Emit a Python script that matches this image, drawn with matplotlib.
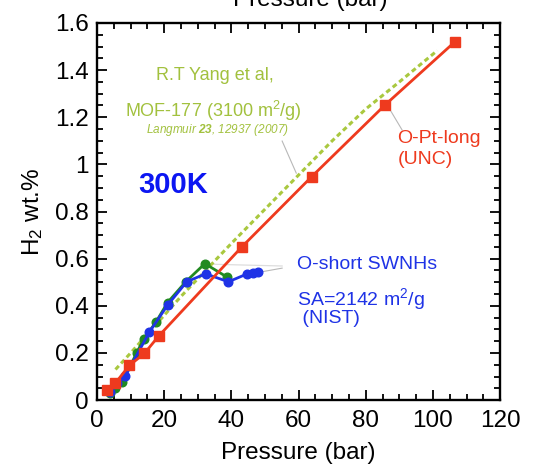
import matplotlib
matplotlib.use("Agg")
import matplotlib.pyplot as plt
from matplotlib.ticker import MultipleLocator, FixedLocator

plt.rcParams['font.family'] = ['Liberation Sans', 'DejaVu Sans']
plt.rcParams['mathtext.fontset'] = 'custom'
plt.rcParams['mathtext.rm'] = 'Liberation Sans'
plt.rcParams['mathtext.it'] = 'Liberation Sans:italic'
plt.rcParams['mathtext.bf'] = 'Liberation Sans:bold:italic'

# O-Pt-long (UNC)
pt_long_p = [3.0, 5.5, 9.6, 14.1, 18.3, 43.1, 63.9, 85.8, 106.6]
pt_long_h2 = [0.043, 0.073, 0.147, 0.198, 0.271, 0.650, 0.948, 1.253, 1.521]

# O-short SWNHs (two runs)
swnh_a_p = [3.9, 5.5, 7.5, 11.8, 13.9, 17.5, 21.0, 26.4, 32.1, 38.7]
swnh_a_h2 = [0.030, 0.050, 0.078, 0.200, 0.260, 0.330, 0.414, 0.502, 0.579, 0.522]
swnh_b_p = [3.9, 6.0, 8.4, 15.6, 21.1, 26.7, 32.3, 39.1, 44.6, 46.4, 48.0]
swnh_b_h2 = [0.035, 0.071, 0.102, 0.289, 0.405, 0.502, 0.536, 0.502, 0.535, 0.541, 0.543]

# MOF-177 reference isotherm
mof_p = [5.5, 10, 15, 20, 25, 30, 35, 40, 50, 60, 70, 80, 90, 101.3]
mof_h2 = [0.13, 0.20, 0.28, 0.36, 0.44, 0.515, 0.59, 0.665, 0.81, 0.955, 1.10, 1.235, 1.35, 1.483]

xticks = [0, 20, 40, 60, 80, 100, 120]
yticks = [0, 0.2, 0.4, 0.6, 0.8, 1.0, 1.2, 1.4, 1.6]
ytick_labels = ['0', '0.2', '0.4', '0.6', '0.8', '1', '1.2', '1.4', '1.6']

RED = '#ee3a1e'
BLUE = '#1f33e6'
GREEN = '#218a21'
LIME = '#a9c83f'
LIME_TXT = '#a2c13e'

fig = plt.figure(figsize=(5.39, 4.68), dpi=100)
ax = fig.add_axes([0.180, 0.145, 0.748, 0.806])

# leader lines
lead = dict(color='#b8b8b8', lw=0.8, zorder=1)
ax.plot([55.1, 59.3], [1.099, 0.963], **lead)
ax.plot([86.7, 90.8], [1.244, 1.146], **lead)
ax.plot([32.8, 55.1], [0.577, 0.569], color='#dddddd', lw=0.9, zorder=1)
ax.plot([48.5, 55.1], [0.543, 0.560], **lead)

ax.plot(mof_p, mof_h2, color=LIME, lw=2.2, linestyle=(0, (1.6, 1.1)), zorder=2)
ax.plot(swnh_a_p, swnh_a_h2, color=GREEN, lw=2.0, marker='o', ms=6.2, zorder=3)
ax.plot(swnh_b_p, swnh_b_h2, color=BLUE, lw=2.0, marker='o', ms=6.2, zorder=4)
ax.plot(pt_long_p, pt_long_h2, color=RED, lw=2.0, marker='s', ms=7, zorder=5)

ax.set_xlim(0, 120)
ax.set_ylim(0, 1.6)
ax.xaxis.set_major_locator(FixedLocator(xticks))
ax.yaxis.set_major_locator(FixedLocator(yticks))
ax.set_yticklabels(ytick_labels)
ax.xaxis.set_minor_locator(MultipleLocator(5))
ax.yaxis.set_minor_locator(MultipleLocator(0.05))
ax.tick_params(which='both', direction='in', top=True, right=True, width=1.3)
ax.tick_params(which='major', length=7, labelsize=17.5)
ax.tick_params(axis='x', which='major', pad=7)
ax.tick_params(axis='y', which='major', pad=6)
ax.tick_params(which='minor', length=4)
for s in ax.spines.values():
    s.set_linewidth(1.7)

ax.set_xlabel('Pressure (bar)', fontsize=17.5, labelpad=7)
ax.set_ylabel('H$_2$ wt.%', fontsize=17.5, labelpad=7)

fig.text(0.575, 0.987, 'Pressure (bar)', fontsize=17.5, ha='center', va='baseline')

ax.text(35.1, 1.379, 'R.T Yang et al,', color=LIME_TXT, fontsize=13, ha='center', va='center')
ax.text(34.5, 1.226, 'MOF-177 (3100 m$^2$/g)', color=LIME_TXT, fontsize=13, ha='center', va='center')
ax.text(35.8, 1.146, 'Langmuir $\\mathbf{23}$, 12937 (2007)', color=LIME_TXT, fontsize=8.5,
        ha='center', va='center', style='italic')
ax.text(22.6, 0.913, '300K', color='#0c16f2', fontsize=21, fontweight='bold', ha='center', va='center')
ax.text(89.3, 1.108, 'O-Pt-long', color=RED, fontsize=14, ha='left', va='center')
ax.text(89.5, 1.019, '(UNC)', color=RED, fontsize=14, ha='left', va='center')
ax.text(59.6, 0.575, 'O-short SWNHs', color=BLUE, fontsize=14, ha='left', va='center')
ax.text(59.6, 0.430, 'SA=2142 m$^2$/g', color=BLUE, fontsize=14, ha='left', va='center')
ax.text(59.6, 0.345, ' (NIST)', color=BLUE, fontsize=14, ha='left', va='center')

fig.savefig('out.png', dpi=100)
